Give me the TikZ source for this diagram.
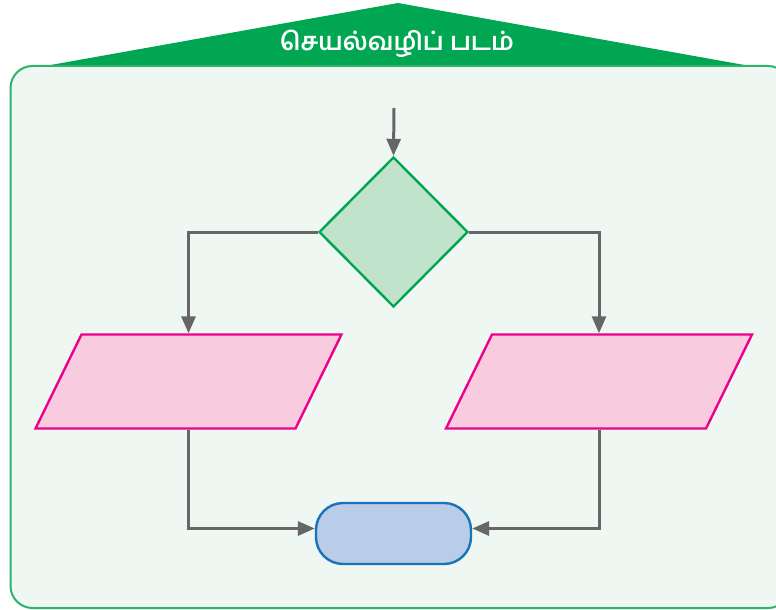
\documentclass[tikz,border=0pt]{standalone}
\usepackage{fontspec}
\newfontfamily\tamilfont[Script=Tamil]{Hind Madurai}
\usetikzlibrary{shapes.geometric,arrows.meta}
\definecolor{bannergreen}{HTML}{00A651}
\definecolor{framegreen}{HTML}{2DB36B}
\definecolor{framefill}{HTML}{EEF7F2}
\definecolor{decfill}{HTML}{C1E3CB}
\definecolor{decline}{HTML}{00A550}
\definecolor{iofill}{HTML}{F8CBDF}
\definecolor{ioline}{HTML}{EC008C}
\definecolor{termfill}{HTML}{B9CDE9}
\definecolor{termline}{HTML}{1A73B8}
\definecolor{flowgray}{HTML}{666666}
\tikzset{
  decbox/.style={draw=decline,fill=decfill,line width=2.4pt,diamond,inner sep=0pt,minimum width=149pt,minimum height=150pt},
  iobox/.style={draw=ioline,fill=iofill,line width=2.4pt,rectangle,xslant=0.489,transform shape,inner sep=0pt,minimum width=260pt,minimum height=94pt},
  termbox/.style={draw=termline,fill=termfill,line width=2.4pt,rounded corners=27pt,inner sep=0pt,minimum width=155pt,minimum height=61pt},
  flow/.style={draw=flowgray,line width=3pt,-{Triangle[length=17pt,width=14pt]}}
}
\begin{document}
\begin{tikzpicture}[x=1pt,y=-1pt]
\clip (0,0) rectangle (776,610);
\fill[bannergreen] (45,66) -- (398,3) -- (750,66) -- cycle;
\draw[framegreen,fill=framefill,line width=2pt,rounded corners=22pt] (10.5,66) rectangle (790,608);
\node[text=white,font=\tamilfont\bfseries\fontsize{25}{28}\selectfont] (title) at (397,44) {செயல்வழிப் படம்};
\coordinate (start) at (394,108);
\node[decbox] (dec) at (393.5,232) {};
\node[iobox] (inleft) at (188.5,381.5) {};
\node[iobox] (inright) at (599,381.5) {};
\node[termbox] (stop) at (393.5,533.5) {};
\draw[flow] (start) -- (dec.north);
\draw[flow] (dec.west) -| (inleft.center |- inleft.north);
\draw[flow] (dec.east) -| (inright.center |- inright.north);
\draw[flow] (inleft.center |- inleft.south) |- ([yshift=5pt]stop.west);
\draw[flow] (inright.center |- inright.south) |- ([yshift=5pt]stop.east);
\end{tikzpicture}
\end{document}
